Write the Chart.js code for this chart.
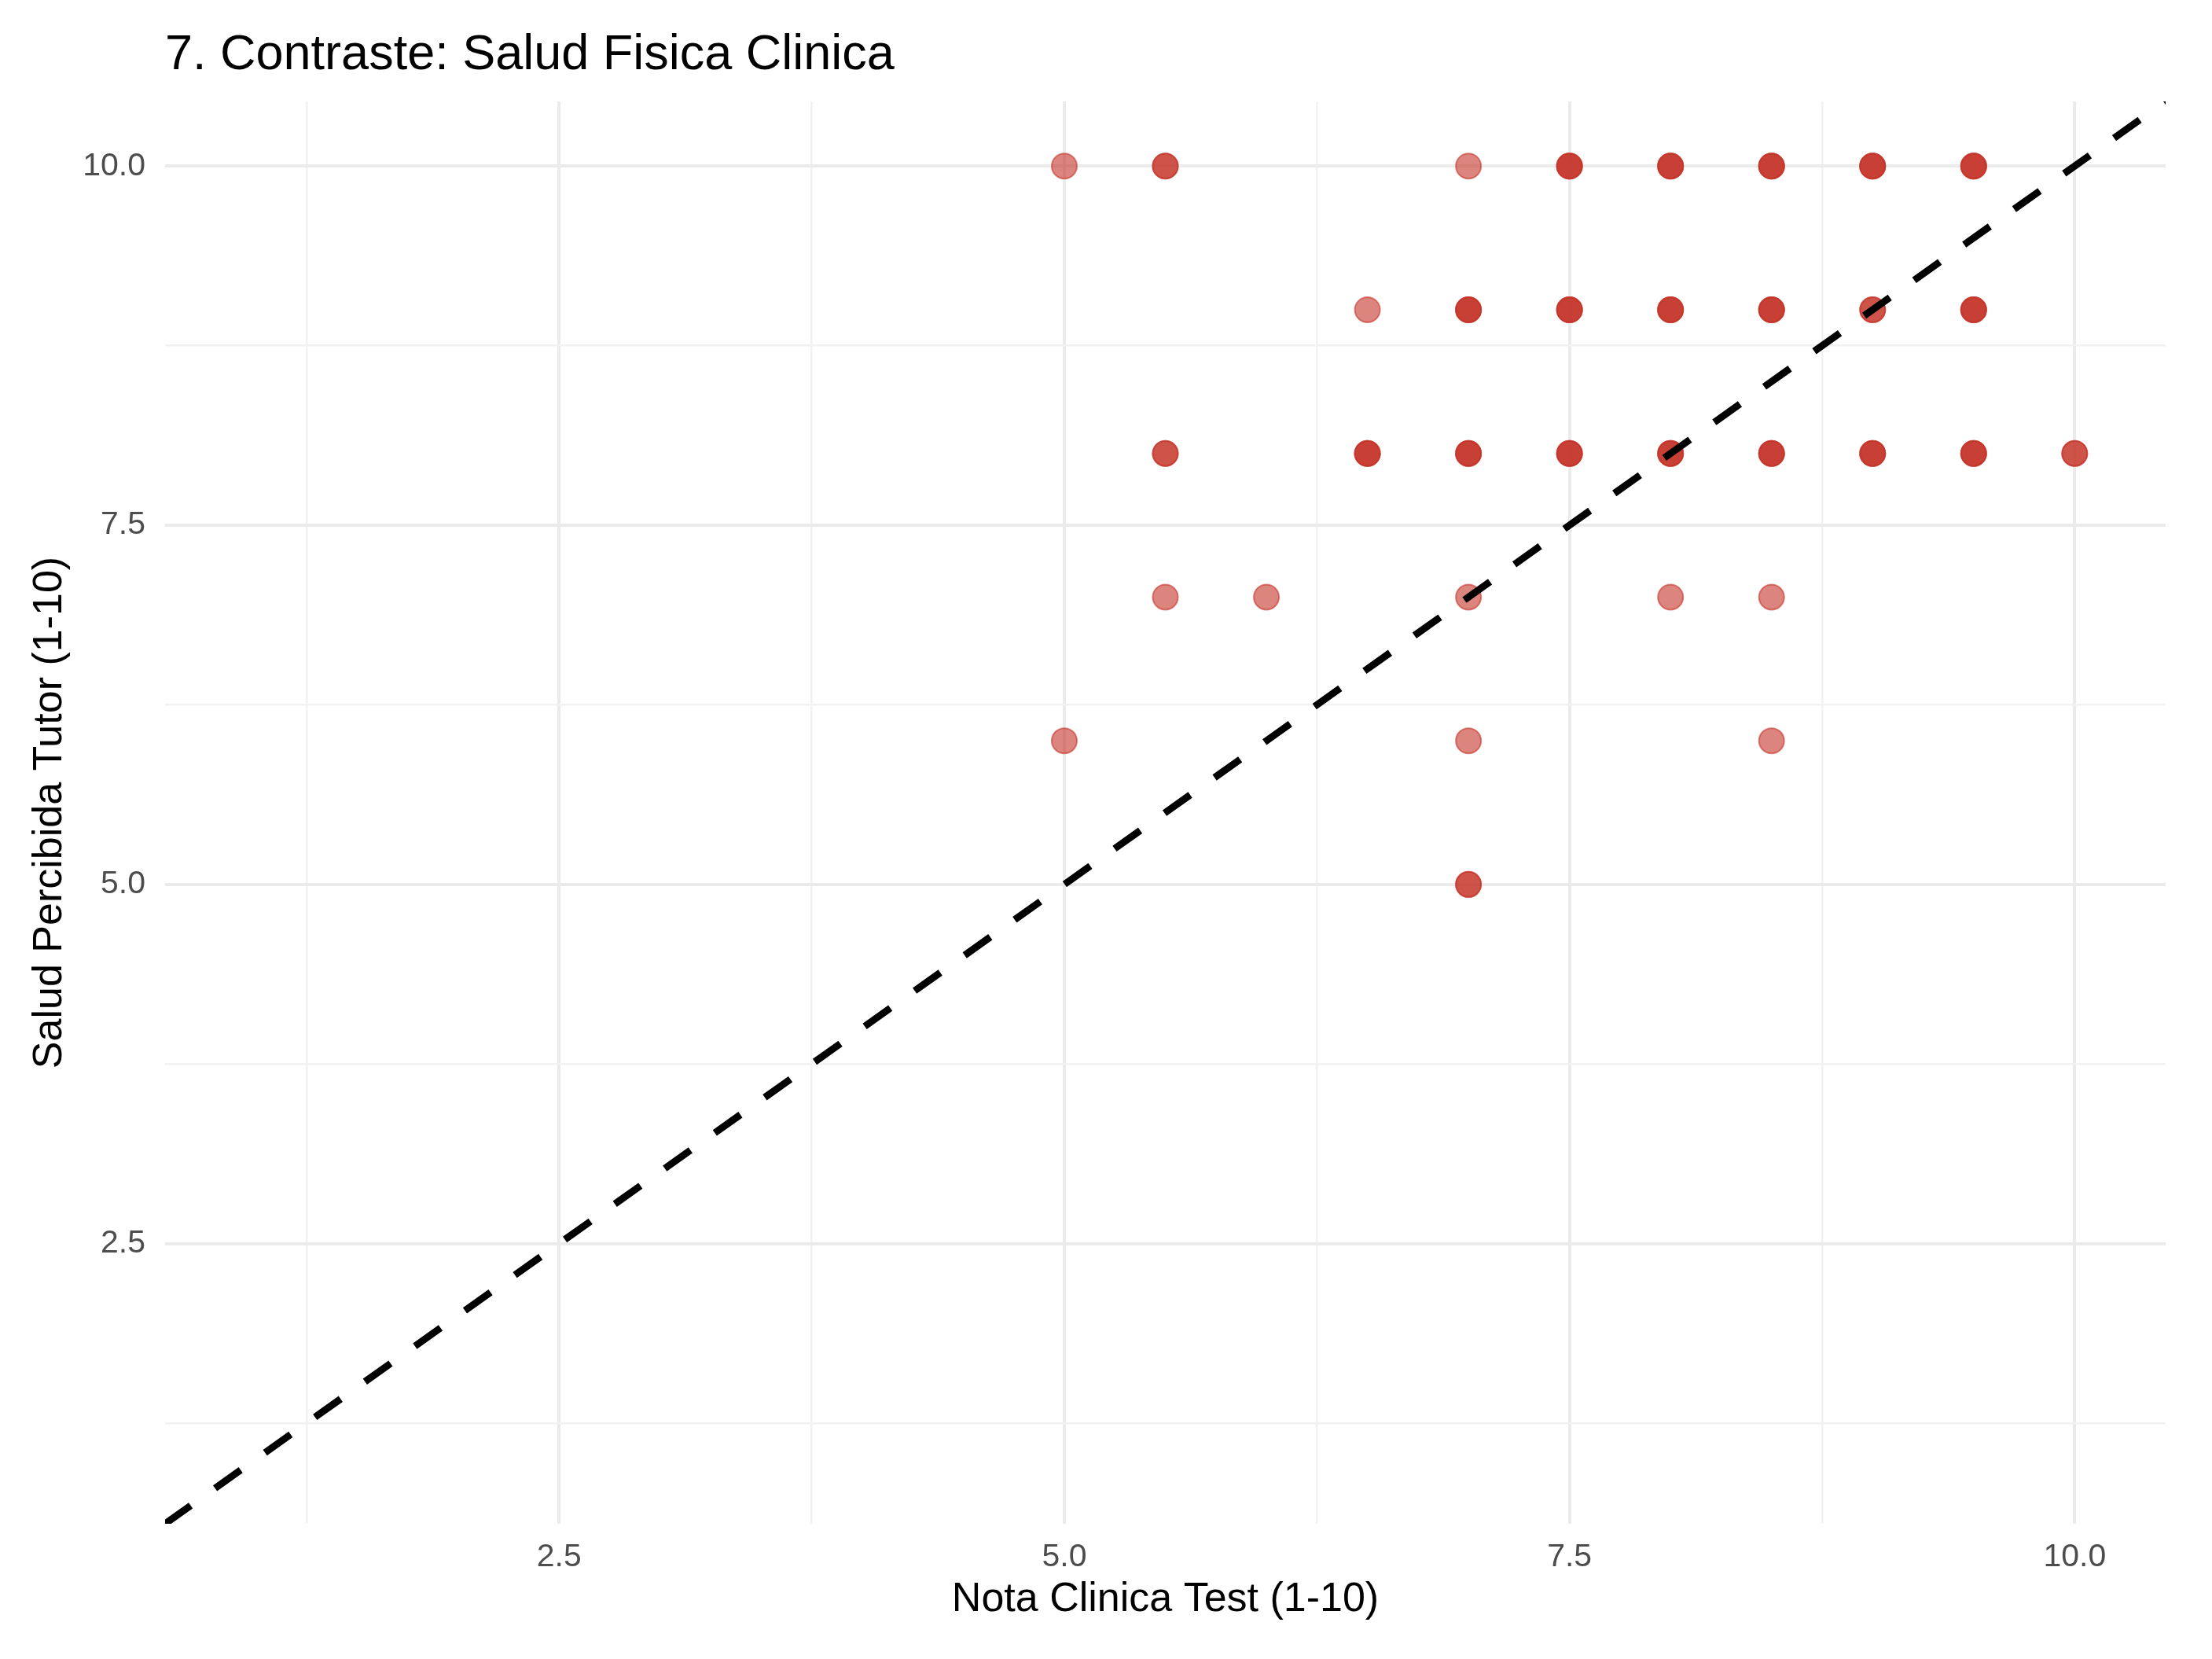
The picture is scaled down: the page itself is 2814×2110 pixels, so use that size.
<!DOCTYPE html>
<html>
<head>
<meta charset="utf-8">
<title>7. Contraste: Salud Fisica Clinica</title>
<script src="https://cdn.jsdelivr.net/npm/chart.js@4.4.1/dist/chart.umd.min.js"></script>
<style>
  html, body { margin: 0; padding: 0; background: #ffffff; }
  canvas { display: block; }
</style>
</head>
<body>
<canvas id="scatterChart" width="2814" height="2110"></canvas>
<script>
// Data: one entry per distinct position,
// nObs = how many students overlap there (darker dots = more overlap).
var notaClinica = [5, 5.5, 7, 7.5, 8, 8.5, 9, 9.5,
                   6.5, 7, 7.5, 8, 8.5, 9, 9.5,
                   5.5, 6.5, 7, 7.5, 8, 8.5, 9, 9.5, 10,
                   5.5, 6, 7, 8, 8.5,
                   5, 7, 8.5,
                   7];
var saludTutor  = [10, 10, 10, 10, 10, 10, 10, 10,
                   9, 9, 9, 9, 9, 9, 9,
                   8, 8, 8, 8, 8, 8, 8, 8, 8,
                   7, 7, 7, 7, 7,
                   6, 6, 6,
                   5];
var nObs        = [1, 2, 1, 3, 3, 3, 3, 3,
                   1, 3, 3, 3, 3, 2, 3,
                   2, 3, 3, 3, 3, 3, 3, 3, 2,
                   1, 1, 1, 1, 1,
                   1, 1, 1,
                   2];

// axis limits (1..10 with ggplot's 5% expansion) and grid ticks
var axisMin = 0.55;
var axisMax = 10.45;
var tickValues = [1.25, 2.5, 3.75, 5, 6.25, 7.5, 8.75, 10];
var tickLabels = ["", "2.5", "", "5.0", "", "7.5", "", "10.0"];

var FONT = "'Liberation Sans', Arial, Helvetica, sans-serif";

(function () {
  var points = [];
  for (var i = 0; i < notaClinica.length; i++) {
    for (var k = 0; k < nObs[i]; k++) {
      points.push({ x: notaClinica[i], y: saludTutor[i] });
    }
  }

  function setTicks(scale) {
    scale.ticks = tickValues.map(function (v) { return { value: v }; });
  }
  function gridColor(ctx) { return tickLabels[ctx.index] ? "#EBEBEB" : "#F2F2F2"; }
  function gridWidth(ctx) { return tickLabels[ctx.index] ? 4 : 2.5; }
  function tickLabel(v, i) { return tickLabels[i]; }

  var titlePlugin = {
    id: "plotTitle",
    afterDraw: function (chart) {
      var c = chart.ctx;
      c.save();
      c.fillStyle = "#000000";
      c.font = "63px " + FONT;
      c.textAlign = "left";
      c.textBaseline = "alphabetic";
      c.fillText("7. Contraste: Salud Fisica Clinica", chart.chartArea.left, 88);
      c.restore();
    }
  };

  new Chart(document.getElementById("scatterChart").getContext("2d"), {
    type: "scatter",
    data: {
      datasets: [{
        type: "line",
        label: "identidad",
        data: [{ x: axisMin, y: axisMin }, { x: axisMax, y: axisMax }],
        borderColor: "#000000",
        borderWidth: 9,
        borderDash: [40, 38],
        borderCapStyle: "butt",
        pointRadius: 0,
        fill: false,
        order: 0
      }, {
        label: "alumnos",
        data: points,
        backgroundColor: "rgba(196,52,40,0.6)",
        borderColor: "rgba(196,52,40,0.6)",
        borderWidth: 2,
        pointRadius: 16,
        pointHoverRadius: 16,
        order: 1
      }]
    },
    options: {
      responsive: false,
      animation: false,
      devicePixelRatio: 1,
      layout: { padding: { top: 129, right: 59, bottom: 0, left: 0 } },
      plugins: {
        legend: { display: false },
        title: { display: false },
        tooltip: { enabled: false }
      },
      scales: {
        x: {
          type: "linear",
          min: axisMin,
          max: axisMax,
          afterBuildTicks: setTicks,
          afterFit: function (s) { s.height = 172; },
          border: { display: false },
          grid: { color: gridColor, lineWidth: gridWidth, drawTicks: false },
          ticks: {
            autoSkip: false, maxRotation: 0, padding: 18,
            color: "#4D4D4D", font: { family: FONT, size: 41 },
            callback: tickLabel
          },
          title: {
            display: true,
            text: "Nota Clinica Test (1-10)",
            color: "#000000",
            font: { family: FONT, size: 52, lineHeight: 1.2 },
            padding: { top: 0, bottom: 44 }
          }
        },
        y: {
          type: "linear",
          min: axisMin,
          max: axisMax,
          afterBuildTicks: setTicks,
          afterFit: function (s) { s.width = 210; },
          border: { display: false },
          grid: { color: gridColor, lineWidth: gridWidth, drawTicks: false },
          ticks: {
            autoSkip: false, padding: 25,
            color: "#4D4D4D", font: { family: FONT, size: 41 },
            callback: tickLabel
          },
          title: {
            display: true,
            text: "Salud Percibida Tutor (1-10)",
            color: "#000000",
            font: { family: FONT, size: 52, lineHeight: 1.2 },
            padding: { top: 32, bottom: 0 }
          }
        }
      }
    },
    plugins: [titlePlugin]
  });
})();
</script>
</body>
</html>
